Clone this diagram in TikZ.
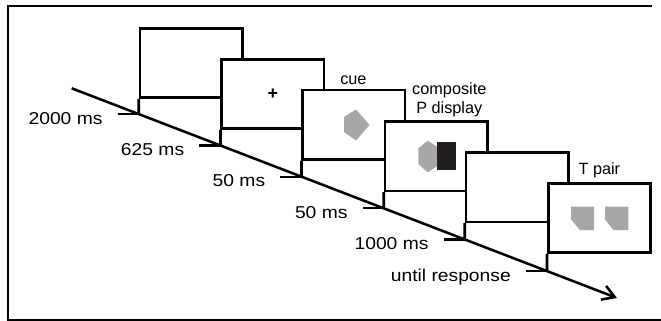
\documentclass[tikz,border=0pt]{standalone}
\usepackage{graphicx}
\usepackage{fontspec}
\setmainfont{Liberation Sans}
\usetikzlibrary{arrows.meta}
\definecolor{stimgray}{HTML}{A7A7A7}
\definecolor{stimblack}{HTML}{231F20}
\begin{document}
\begin{tikzpicture}[x=0.75pt,y=-0.75pt,
  screen/.style={draw=black, fill=white, line width=2pt, minimum width=76.7pt, minimum height=51.9pt, inner sep=0pt},
  stem/.style={line width=2pt},
  tick/.style={line width=1.6pt},
  timeline/.style={line width=1.9pt, -{Straight Barb[length=9pt,width=11pt,line width=1.9pt]}},
  frame/.style={line width=1.5pt},
  tl/.style={inner sep=0pt, font=\fontsize{12.9}{15}\selectfont, anchor=base east},
  toplabel/.style={inner sep=0pt, font=\fontsize{12.2}{14}\selectfont},
  stim/.style={fill=stimgray, draw=none}
]
\useasboundingbox (0,0) rectangle (661,321);
% frame
\draw[frame] (652,5.7) -- (8.3,5.7) -- (8.3,320) -- (661,320);
% timeline
\coordinate (S) at (71.7,88.3);
\coordinate (E) at (617,298);
\draw[timeline] (S) -- (E);
% screens
\node[screen] (b1) at (191.2,62.9) {};
\node[screen] (b2) at (272.9,93.9) {};
\node[screen] (b3) at (353.9,124.6) {};
\node[screen] (b4) at (436.2,156.3) {};
\node[screen] (b5) at (517.2,187.3) {};
\node[screen] (b6) at (599.5,217.9) {};
% stems, ticks, labels
\foreach \i/\lab in {1/2000 ms, 2/625 ms, 3/50 ms, 4/50 ms, 5/1000 ms, 6/until response}{
  \coordinate (t\i) at (intersection cs: first line={(S)--(E)}, second line={(b\i.south west)--(b\i.north west)});
  \draw[stem] (b\i.south west) -- (t\i);
  \coordinate (k\i) at ([xshift=-21*0.75pt]t\i);
  \draw[tick] (k\i) -- (t\i);
  \node[tl] (l\i) at ([xshift=-15*0.75pt, yshift=-10*0.75pt]k\i) {\scalebox{1.12}[1]{\lab}};
}
% fixation cross
\node[inner sep=0pt, font=\fontsize{13.5}{15}\selectfont\bfseries] (fix) at (b2.center) {+};
% cue
\fill[stim] (356,109.5) -- (369.5,125) -- (356,140.5) -- (344,132) -- (344,117) -- cycle;
% composite
\fill[stim] (427.7,140.7) -- (437.5,147) -- (437.5,166) -- (427.7,172.3) -- (418.3,164) -- (418.3,148.5) -- cycle;
\fill[stimblack] (437.3,142.3) rectangle (456,170);
% T pair
\fill[stim] (571,206.7) -- (594,206.7) -- (594,230) -- (580,230) -- (571,219.3) -- cycle;
\fill[stim] (605,206.7) -- (628.3,206.7) -- (628.3,230) -- (613.3,230) -- (605,219.3) -- cycle;
% top labels
\node[toplabel, anchor=base west] (cue) at (340,85) {cue};
\node[toplabel, anchor=base] (comp1) at (449.3,95) {composite};
\node[toplabel, anchor=base] (comp2) at (449.3,113.3) {P display};
\node[toplabel, anchor=base west] (tpair) at (578.3,175) {T pair};
\end{tikzpicture}
\end{document}
